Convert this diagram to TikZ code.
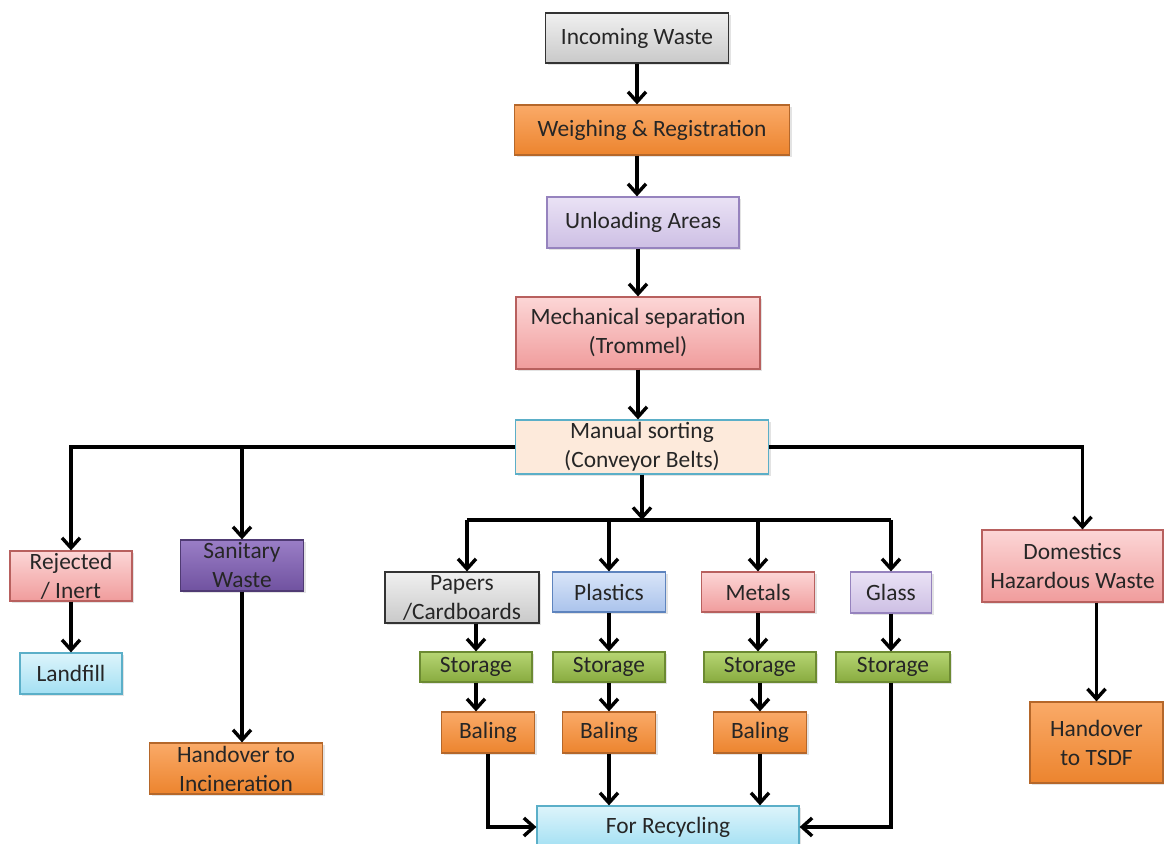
\documentclass[tikz,border=0pt]{standalone}
\usepackage{fontspec}
\setmainfont{Carlito}
\usetikzlibrary{positioning, arrows.meta, shadows}

\definecolor{txt}{HTML}{262626}
\definecolor{greytop}{HTML}{F0F0F0}\definecolor{greybot}{HTML}{C9C9C9}
\definecolor{orgtop}{HTML}{FAAA68}\definecolor{orgbot}{HTML}{EC842E}\definecolor{orgline}{HTML}{B5672A}
\definecolor{liltop}{HTML}{EAE2F5}\definecolor{lilbot}{HTML}{CDBFE4}\definecolor{lilline}{HTML}{9683BE}
\definecolor{pnktop}{HTML}{FCD6D6}\definecolor{pnkbot}{HTML}{F09C9C}\definecolor{pnkline}{HTML}{B8605E}
\definecolor{cyntop}{HTML}{DDF4FB}\definecolor{cynbot}{HTML}{A3E0F3}\definecolor{cynline}{HTML}{5BAFC8}
\definecolor{purtop}{HTML}{9A7EC6}\definecolor{purbot}{HTML}{7052A0}\definecolor{purline}{HTML}{4F3A73}
\definecolor{blutop}{HTML}{D9E5F8}\definecolor{blubot}{HTML}{AAC3EC}\definecolor{bluline}{HTML}{5E84BE}
\definecolor{grntop}{HTML}{B6D573}\definecolor{grnbot}{HTML}{88AB3F}\definecolor{grnline}{HTML}{6C8A32}
\definecolor{peach}{HTML}{FDEADB}
\begin{document}
\begin{tikzpicture}[x=0.5pt, y=-0.5pt,
      box/.style={draw, line width=0.6pt, inner sep=0.5pt, align=center, text=txt,
        font=\fontsize{11.7}{14.5}\selectfont,
        drop shadow={opacity=0.22, shadow xshift=1pt, shadow yshift=-1pt}},
      greybox/.style={box, draw=black!80, top color=greytop, bottom color=greybot},
      orangebox/.style={box, draw=orgline, top color=orgtop, bottom color=orgbot},
      lilacbox/.style={box, draw=lilline, top color=liltop, bottom color=lilbot},
      pinkbox/.style={box, draw=pnkline, top color=pnktop, bottom color=pnkbot},
      peachbox/.style={box, draw=cynline, fill=peach},
      cyanbox/.style={box, draw=cynline, top color=cyntop, bottom color=cynbot},
      purplebox/.style={box, draw=purline, top color=purtop, bottom color=purbot},
      bluebox/.style={box, draw=bluline, top color=blutop, bottom color=blubot},
      greenbox/.style={box, draw=grnline, top color=grntop, bottom color=grnbot},
      arr/.style={line width=1.7pt, -{Straight Barb[length=5pt, width=9pt]}},
      ln/.style={line width=1.7pt}]
      \useasboundingbox (0,0) rectangle (1164,844);

      % main line
      \node[greybox, minimum width=91.5pt, minimum height=25pt] (inc) at (637,38) {Incoming Waste};
      \node[orangebox, minimum width=137.5pt, minimum height=25pt] (weigh) at (652,130) {Weighing \& Registration};
      \node[lilacbox, minimum width=96pt, minimum height=25.5pt] (unload) at (643,222.5) {Unloading Areas};
      \node[pinkbox, minimum width=122pt, minimum height=36pt] (mech) at (638,333) {Mechanical separation\\(Trommel)};
      \node[peachbox, minimum width=126.5pt, minimum height=27pt] (sort) at (642,447) {Manual sorting\\(Conveyor Belts)};
      \draw[arr](inc.south)--(inc.south |- weigh.north);\draw[arr](inc.south |- weigh.south)--(inc.south |- unload.north);
      \draw[arr](mech.north |- unload.south)--(mech.north);\draw[arr](mech.south)--(mech.south |- sort.north);

      % left side
      \node[pinkbox, minimum width=61pt, minimum height=25pt] (rej) at (71,576) {Rejected\\/ Inert};
      \node[cyanbox, minimum width=51pt, minimum height=20.5pt] (land) at (71,673.5) {Landfill};
      \node[purplebox, minimum width=61.5pt, minimum height=25.5pt] (sani) at (242,565.5) {Sanitary\\Waste};
      \node[orangebox, minimum width=86.5pt, minimum height=25.5pt] (incin) at (236,768.5) {Handover to\\Incineration};
      \draw[arr](sort.west)-|(rej.north);\draw[arr](sani.north |- sort.west)--(sani.north);
      \draw[arr](rej.south)--(rej.south |- land.north);\draw[arr](sani.south)--(sani.south |- incin.north);

      % recyclables
      \coordinate (br) at (642,520);
      \node[greybox, minimum width=77pt, minimum height=25.5pt] (pap) at (462,597.5) {Papers\\/Cardboards};
      \node[bluebox, minimum width=56.5pt, minimum height=20pt] (pla) at (609,592) {Plastics};
      \node[pinkbox, minimum width=56.5pt, minimum height=20pt] (met) at (758,592) {Metals};
      \node[lilacbox, minimum width=40.5pt, minimum height=20.5pt] (gla) at (891,592.5) {Glass};
      \node[greenbox, minimum width=56pt, minimum height=15pt] (papst) at (476,667) {Storage};
      \node[greenbox, minimum width=56pt, minimum height=15pt] (plast) at (609,667) {Storage};
      \node[greenbox, minimum width=56pt, minimum height=15pt] (metst) at (760,667) {Storage};
      \node[greenbox, minimum width=57pt, minimum height=15pt] (glast) at (893,667) {Storage};
      \node[orangebox, minimum width=46.5pt, minimum height=20.5pt] (papbal) at (488,732.5) {Baling};
      \node[orangebox, minimum width=46.5pt, minimum height=20.5pt] (plabal) at (609,732.5) {Baling};
      \node[orangebox, minimum width=46.5pt, minimum height=20.5pt] (metbal) at (760,732.5) {Baling};
      \node[cyanbox, minimum width=131pt, minimum height=21pt] (recyc) at (668,827) {For Recycling};
      \draw[arr](sort.south)--(br);\draw[ln]([xshift=2.5pt]pap.north |- br)--(gla.north |- br);
      \draw[arr]([xshift=2.5pt]pap.north |- br)--([xshift=2.5pt]pap.north);
      \foreach \n in {pla,met,gla} \draw[arr](\n.north |- br)--(\n.north);
      \draw[arr](papst.north |- pap.south)--(papst.north);\draw[arr](papst.south)--(papst.south |- papbal.north);
      \draw[arr](pla.south)--(pla.south |- plast.north);\draw[arr](plast.south)--(plast.south |- plabal.north);
      \draw[arr](met.south)--(met.south |- metst.north);\draw[arr](metst.south)--(metst.south |- metbal.north);
      \draw[arr](gla.south)--(gla.south |- glast.north);
      \draw[arr](papbal.south)|-(recyc.west);\draw[arr](plabal.south)--(plabal.south |- recyc.north);
      \draw[arr](metbal.south)--(metbal.south |- recyc.north);\draw[arr](gla.south |- glast.south)|-(recyc.east);

      % right side
      \node[pinkbox, minimum width=90.5pt, minimum height=36pt] (dom) at (1072.5,566) {Domestics\\Hazardous Waste};
      \node[orangebox, minimum width=66.5pt, minimum height=40.5pt] (tsdf) at (1096.5,742.5) {Handover\\to TSDF};
      \draw[arr](sort.east)-|([xshift=5pt]dom.north);\draw[arr](tsdf.north |- dom.south)--(tsdf.north);
    \end{tikzpicture}
\end{document}
